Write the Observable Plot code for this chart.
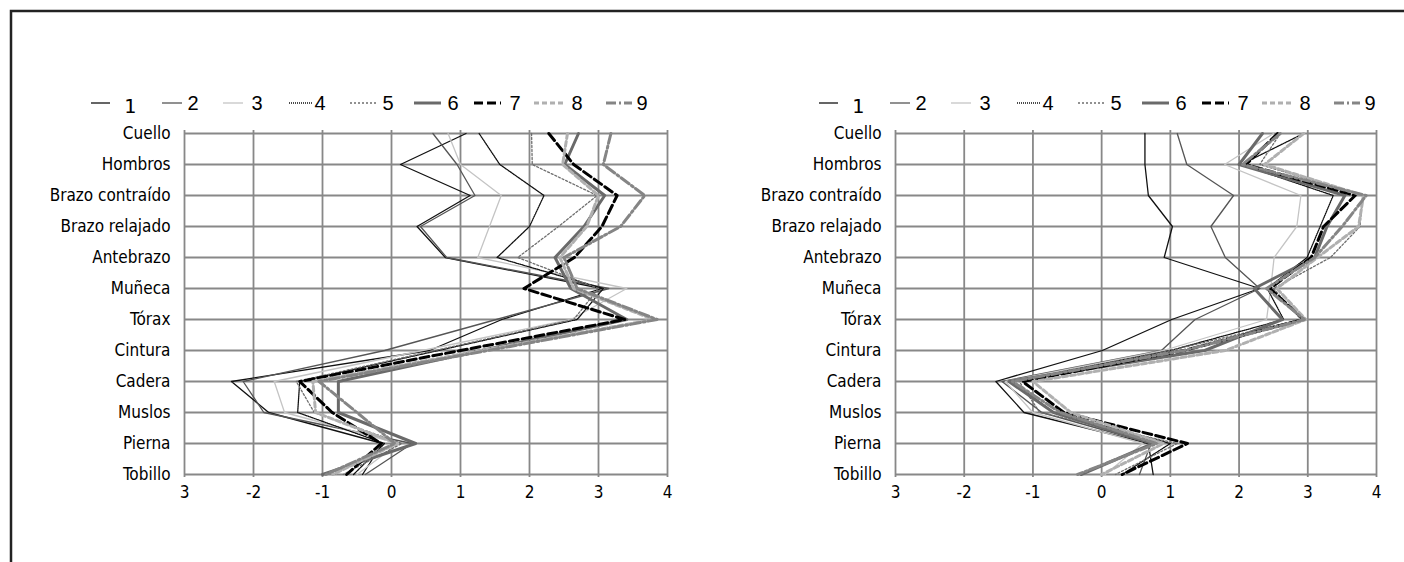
<!DOCTYPE html>
<html>
<head>
<meta charset="utf-8">
<script src="https://cdn.jsdelivr.net/npm/d3@7"></script>
<script src="https://cdn.jsdelivr.net/npm/@observablehq/plot@0.6"></script>
<style>
  html, body { margin: 0; padding: 0; background: #fff; overflow: hidden; }
  #page { position: relative; width: 1404px; height: 562px; overflow: hidden; background: #fff; }
  .panel { position: absolute; top: 0; }
  .overlay { position: absolute; top: 0; left: 0; }
</style>
</head>
<body>
<div id="page"></div>
<script>
// Body parts, top to bottom
const parts = ["Cuello", "Hombros", "Brazo contraído", "Brazo relajado", "Antebrazo", "Muñeca",
               "Tórax", "Cintura", "Cadera", "Muslos", "Pierna", "Tobillo"];

// Horizontal axis ticks and their printed labels
const tickValues = [-3, -2, -1, 0, 1, 2, 3, 4];
const tickLabels = ["3", "-2", "-1", "0", "1", "2", "3", "4"];

// Series names
const seriesNames = ["1", "2", "3", "4", "5", "6", "7", "8", "9"];

// Left panel: one row per series, one value per body part
const leftValues = [
  [1.08, 0.13, 1.14, 0.37, 0.78, 3.05, 1.60, 0.55, -2.32, -1.78, -0.13, -0.42],
  [0.60, 0.95, 1.21, 0.42, 0.80, 3.15, 1.52, -0.10, -2.15, -1.85, 0.30, -0.38],
  [0.82, 1.00, 1.59, 1.42, 1.25, 3.41, 2.60, 0.45, -1.70, -1.55, 0.10, -0.50],
  [1.27, 1.57, 2.21, 2.00, 1.53, 3.07, 2.69, 0.68, -1.33, -1.36, -0.10, -0.55],
  [2.03, 2.04, 2.98, 2.42, 1.83, 3.00, 2.64, 0.63, -1.38, -1.12, 0.15, -0.70],
  [2.71, 2.51, 3.09, 2.79, 2.37, 2.60, 3.41, 1.30, -0.77, -0.77, 0.35, -1.00],
  [2.28, 2.64, 3.27, 3.05, 2.65, 1.92, 3.38, 1.00, -1.33, -0.86, -0.15, -0.65],
  [2.55, 2.48, 3.00, 2.83, 2.44, 2.64, 3.80, 1.30, -1.14, -1.10, 0.08, -0.85],
  [3.18, 3.07, 3.67, 3.32, 2.50, 2.69, 3.85, 1.40, -1.05, -0.50, 0.05, -0.95]
];

// Right panel
const rightValues = [
  [0.63, 0.63, 0.68, 1.03, 0.91, 2.30, 1.02, 0.01, -1.54, -1.13, 0.68, 0.75],
  [1.10, 1.24, 1.92, 1.59, 1.80, 2.30, 1.36, 0.87, -1.45, -0.87, 0.72, 0.55],
  [2.50, 1.79, 2.90, 2.84, 2.51, 2.46, 2.40, 0.90, -1.40, -1.00, 0.60, 0.05],
  [2.94, 2.03, 3.37, 3.18, 2.99, 2.41, 2.65, 1.00, -1.30, -0.70, 1.00, 0.30],
  [2.60, 2.30, 3.80, 3.76, 3.33, 2.50, 2.90, 1.00, -1.20, -0.90, 1.10, 0.20],
  [2.34, 2.00, 3.54, 3.28, 3.10, 2.22, 2.63, 1.50, -1.35, -0.70, 0.75, -0.30],
  [2.56, 2.10, 3.69, 3.23, 3.05, 2.45, 2.94, 1.20, -1.15, -0.55, 1.25, 0.30],
  [2.94, 2.37, 3.81, 3.74, 3.14, 2.55, 2.97, 1.80, -1.00, -0.45, 0.90, 0.00],
  [2.60, 2.05, 3.85, 3.50, 3.10, 2.40, 2.95, 1.20, -1.30, -0.60, 0.80, -0.35]
];

// Line style for each series
const styles = [
  {stroke: "#111",    width: 1.3, dash: null},
  {stroke: "#555",    width: 1.3, dash: null},
  {stroke: "#c4c4c4", width: 1.3, dash: null},
  {stroke: "#111",    width: 1.3, dash: "1,1"},
  {stroke: "#6e6e6e", width: 1.3, dash: "2,2"},
  {stroke: "#6a6a6a", width: 3,   dash: null},
  {stroke: "#000",    width: 3,   dash: "9,4"},
  {stroke: "#b0b0b0", width: 3,   dash: "5,3"},
  {stroke: "#858585", width: 3,   dash: "10,3,2,3"}
];

const font = "'Liberation Sans Narrow', 'Arial Narrow', 'DejaVu Sans Condensed', sans-serif";
const page = document.getElementById("page");

function drawPanel(values, left, plotWidth) {
  const rows = [];
  values.forEach((vals, i) => vals.forEach((v, j) =>
    rows.push({series: seriesNames[i], part: parts[j], value: v})));

  const marginLeft = 184, marginRight = 10, marginTop = 130, marginBottom = 50;
  const lines = seriesNames.map((s, i) => Plot.line(rows.filter(d => d.series === s), {
    x: "value", y: "part",
    stroke: styles[i].stroke, strokeWidth: styles[i].width,
    strokeDasharray: styles[i].dash ?? undefined,
    strokeLinejoin: "round"
  }));

  const chart = Plot.plot({
    width: marginLeft + plotWidth + marginRight,
    height: marginTop + 347 + marginBottom,
    marginLeft, marginRight, marginTop, marginBottom,
    style: {fontFamily: font, fontSize: "17px", color: "#000", background: "transparent", overflow: "visible"},
    x: {domain: [-3, 4], label: null},
    y: {type: "point", domain: parts, padding: 0, label: null},
    marks: [
      Plot.ruleX(tickValues, {stroke: "#888", strokeWidth: 1.8}),
      Plot.ruleY(parts, {stroke: "#888", strokeWidth: 1.8}),
      Plot.axisY({tickSize: 0, tickPadding: 14, label: null, fontSize: 17}),
      Plot.axisX({ticks: tickValues, tickFormat: d => tickLabels[tickValues.indexOf(d)],
                  tickSize: 0, tickPadding: 8, label: null, fontSize: 17}),
      ...lines
    ]
  });
  chart.classList.add("panel");
  chart.style.left = left + "px";
  page.appendChild(chart);
}

// Legend: sample start, sample end and label centre for each series
const legendSampleStart = [91, 162, 223, 289, 350, 414, 474, 534, 606];
const legendSampleEnd   = [110, 182, 243, 313, 376, 441, 501, 563, 632];
const legendLabelX      = [130, 193, 257, 320, 388, 453, 515, 577, 642];

drawPanel(leftValues, 0, 483);
drawPanel(rightValues, 711, 481);

const overlay = d3.select(page).append("svg")
  .attr("class", "overlay").attr("width", 1404).attr("height", 562);

// Outer frame: top and left edges
overlay.append("path")
  .attr("d", "M11,562V11H1404")
  .attr("fill", "none").attr("stroke", "#222").attr("stroke-width", 2.5);

function drawLegend(offset) {
  seriesNames.forEach((s, i) => {
    const st = styles[i];
    overlay.append("line")
      .attr("x1", legendSampleStart[i] + offset).attr("x2", legendSampleEnd[i] + offset)
      .attr("y1", 103).attr("y2", 103)
      .attr("stroke", st.stroke).attr("stroke-width", st.width)
      .attr("stroke-dasharray", st.dash);
    overlay.append("text")
      .attr("x", legendLabelX[i] + offset).attr("y", i === 0 ? 113 : 110)
      .attr("text-anchor", "middle")
      .style("font-family", i === 0 ? "'DejaVu Sans Mono', monospace" : "'Liberation Sans', Arial, sans-serif")
      .style("font-size", "20px")
      .text(s);
  });
}

drawLegend(0);
drawLegend(728);
</script>
</body>
</html>
